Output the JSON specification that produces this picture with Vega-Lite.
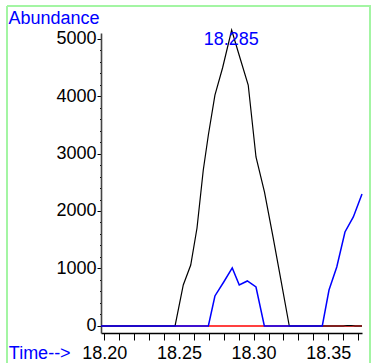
{
  "$schema": "https://vega.github.io/schema/vega-lite/v6.json",
  "autosize": {"type": "none"},
  "width": 363,
  "height": 357,
  "padding": {"left": 7, "top": 6, "right": 1, "bottom": 0},
  "background": "white",
  "config": {
    "font": "Liberation Sans",
    "view": {"stroke": "#a3f5a3", "strokeWidth": 2, "strokeDash": [720, 363, 357, 0]}
  },
  "datasets": {
    "traces": [
      {"trace": "red", "t": 18.1978, "abundance": 0},
      {"trace": "red", "t": 18.3726, "abundance": 0},
      {"trace": "black", "t": 18.1978, "abundance": 0},
      {"trace": "black", "t": 18.2474, "abundance": 0},
      {"trace": "black", "t": 18.2529, "abundance": 713},
      {"trace": "black", "t": 18.2579, "abundance": 1061},
      {"trace": "black", "t": 18.2621, "abundance": 1704},
      {"trace": "black", "t": 18.2663, "abundance": 2713},
      {"trace": "black", "t": 18.2697, "abundance": 3322},
      {"trace": "black", "t": 18.2741, "abundance": 4017},
      {"trace": "black", "t": 18.2792, "abundance": 4487},
      {"trace": "black", "t": 18.2853, "abundance": 5148},
      {"trace": "black", "t": 18.2909, "abundance": 4661},
      {"trace": "black", "t": 18.2964, "abundance": 4191},
      {"trace": "black", "t": 18.3016, "abundance": 2939},
      {"trace": "black", "t": 18.3073, "abundance": 2330},
      {"trace": "black", "t": 18.313, "abundance": 1548},
      {"trace": "black", "t": 18.3184, "abundance": 783},
      {"trace": "black", "t": 18.3239, "abundance": 0},
      {"trace": "black", "t": 18.36, "abundance": 0},
      {"trace": "black", "t": 18.3627, "abundance": 8},
      {"trace": "black", "t": 18.3653, "abundance": 8},
      {"trace": "black", "t": 18.368, "abundance": 0},
      {"trace": "black", "t": 18.3726, "abundance": 0},
      {"trace": "blue", "t": 18.1978, "abundance": 0},
      {"trace": "blue", "t": 18.2697, "abundance": 0},
      {"trace": "blue", "t": 18.2741, "abundance": 522},
      {"trace": "blue", "t": 18.28, "abundance": 765},
      {"trace": "blue", "t": 18.2857, "abundance": 1009},
      {"trace": "blue", "t": 18.2904, "abundance": 713},
      {"trace": "blue", "t": 18.2958, "abundance": 783},
      {"trace": "blue", "t": 18.3016, "abundance": 678},
      {"trace": "blue", "t": 18.3072, "abundance": 0},
      {"trace": "blue", "t": 18.346, "abundance": 0},
      {"trace": "blue", "t": 18.3505, "abundance": 626},
      {"trace": "blue", "t": 18.3557, "abundance": 1026},
      {"trace": "blue", "t": 18.3612, "abundance": 1635},
      {"trace": "blue", "t": 18.3668, "abundance": 1896},
      {"trace": "blue", "t": 18.3726, "abundance": 2296}
    ],
    "peak": [
      {"label": "18.285", "t": 18.285, "abundance": 4974}
    ]
  },
  "encoding": {
    "x": {
      "field": "t", "type": "quantitative",
      "scale": {"domain": [18.1978, 18.3726], "range": [94, 355], "nice": false, "zero": false},
      "axis": {
        "orient": "bottom", "offset": -30,
        "values": [18.2, 18.21, 18.22, 18.23, 18.24, 18.25, 18.26, 18.27, 18.28, 18.29, 18.3, 18.31, 18.32, 18.33, 18.34, 18.35, 18.36, 18.37],
        "format": ".2f",
        "labelExpr": "indexof(['18.20','18.25','18.30','18.35'], datum.label) >= 0 ? datum.label : ''",
        "labelFlush": false, "labelOverlap": false, "labelBound": false,
        "grid": false,
        "tickSize": 7, "tickColor": "#000000", "tickWidth": 1,
        "domainColor": "#000000", "domainWidth": 1.3,
        "labelFontSize": 18, "labelColor": "#000000", "labelPadding": 4,
        "title": "Time-->", "titleX": 1.3, "titleY": 20, "titleAlign": "left", "titleAnchor": "start",
        "titleBaseline": "middle", "titleColor": "#0000ff", "titleFontSize": 18, "titleFontWeight": "normal"
      }
    },
    "y": {
      "field": "abundance", "type": "quantitative",
      "scale": {"domain": [-122, 5096], "range": [327, 27], "nice": false, "zero": false},
      "axis": {
        "orient": "left", "offset": -94,
        "values": [0, 200, 400, 600, 800, 1000, 1200, 1400, 1600, 1800, 2000, 2200, 2400, 2600, 2800, 3000, 3200, 3400, 3600, 3800, 4000, 4200, 4400, 4600, 4800, 5000],
        "format": "d",
        "labelExpr": "datum.value % 1000 === 0 ? datum.label : ''",
        "labelOverlap": false, "labelBound": false,
        "grid": false,
        "tickSize": {"condition": {"test": "datum.value % 1000 === 0", "value": 4}, "value": 1.5},
        "tickColor": "#000000", "tickWidth": 1,
        "domainColor": "#444444", "domainWidth": 1.6,
        "labelFontSize": 18, "labelColor": "#000000", "labelPadding": 1,
        "title": "Abundance", "titleAngle": 0, "titleX": -93, "titleY": 12, "titleAlign": "left", "titleAnchor": "start",
        "titleBaseline": "middle", "titleColor": "#0000ff", "titleFontSize": 18, "titleFontWeight": "normal"
      }
    }
  },
  "layer": [
    {
      "data": {"name": "traces"},
      "transform": [{"filter": "datum.trace === 'red'"}],
      "mark": {"type": "line", "color": "#ff0000", "strokeWidth": 1.5}
    },
    {
      "data": {"name": "traces"},
      "transform": [{"filter": "datum.trace === 'black'"}],
      "mark": {"type": "line", "color": "#000000", "strokeWidth": 1.2}
    },
    {
      "data": {"name": "traces"},
      "transform": [{"filter": "datum.trace === 'blue'"}],
      "mark": {"type": "line", "color": "#0000ff", "strokeWidth": 1.5}
    },
    {
      "data": {"name": "peak"},
      "mark": {"type": "text", "color": "#0000ff", "fontSize": 18, "align": "center", "baseline": "middle"},
      "encoding": {"text": {"field": "label"}}
    }
  ]
}
